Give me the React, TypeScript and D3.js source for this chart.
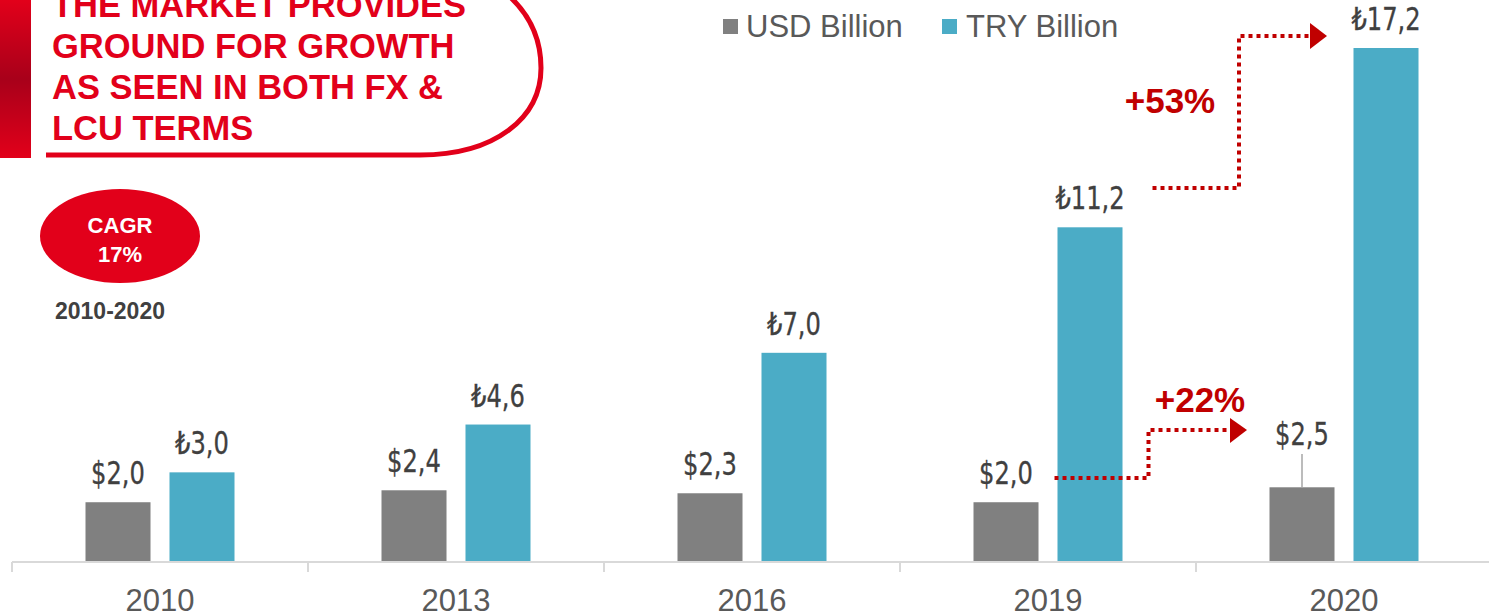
import React from "react";
import * as d3 from "d3";

const categories = ["2010", "2013", "2016", "2019", "2020"];
const seriesNames = ["USD Billion", "TRY Billion"];
const usdValues = [2.0, 2.4, 2.3, 2.0, 2.5];
const tryValues = [3.0, 4.6, 7.0, 11.2, 17.2];
const usdLabels = ["$2,0", "$2,4", "$2,3", "$2,0", "$2,5"];
const tryLabels = ["₺3,0", "₺4,6", "₺7,0", "₺11,2", "₺17,2"];
const titleLines = ["THE MARKET PROVIDES", "GROUND FOR GROWTH", "AS SEEN IN BOTH FX &", "LCU TERMS"];

const W = 1489;
const H = 616;
const GRAY = "#808080";
const TEAL = "#4BACC6";
const RED = "#E2001A";
const DARKRED = "#C00000";
const LABEL_FONT = "'DejaVu Sans Condensed', 'DejaVu Sans', sans-serif";
const ARIAL = "'Liberation Sans', Arial, sans-serif";

export default function App() {
  const baseY = 562;
  const x0 = d3.scaleBand<string>().domain(categories).range([12, 1492]).padding(0);
  const bw = x0.bandwidth();
  const x1 = d3
    .scaleBand<string>()
    .domain(seriesNames)
    .range([bw / 2 - 74.5, bw / 2 + 74.5])
    .paddingInner(0.226);
  const y = d3.scaleLinear().domain([0, 17.2]).range([baseY, 48]);
  const series = [
    { name: seriesNames[0], values: usdValues, labels: usdLabels, color: GRAY },
    { name: seriesNames[1], values: tryValues, labels: tryLabels, color: TEAL },
  ];

  const ticks = categories.map((c) => x0(c)!).concat([x0(categories[categories.length - 1])! + bw]);

  const gray2019 = x0("2019")! + x1(seriesNames[0])!;
  const teal2019 = x0("2019")! + x1(seriesNames[1])!;
  const b = x1.bandwidth();

  const a1y0 = 478;
  const a1x0 = gray2019 + b + 16;
  const a1xm = teal2019 + b + 26;
  const a1y1 = 430;
  const a1x1 = 1230;

  const a2y0 = 188;
  const a2x0 = teal2019 + b + 30;
  const a2xm = 1239;
  const a2y1 = 36;
  const a2x1 = 1310;

  return (
    <svg width={W} height={H} style={{ position: "absolute", left: 0, top: 0, background: "#fff" }}>
      <defs>
        <linearGradient id="redbar" x1="0" y1="0" x2="0" y2="1">
          <stop offset="0" stopColor="#E2001A" />
          <stop offset="0.5" stopColor="#A8001A" />
          <stop offset="1" stopColor="#E2001A" />
        </linearGradient>
      </defs>

      {/* title box */}
      <rect x={0} y={0} width={31} height={158} fill="url(#redbar)" />
      <path
        d="M46,155 H420 C495,155 541,118 541,68 C541,35 527,12 508,-5"
        fill="none"
        stroke={RED}
        strokeWidth={5}
      />
      {titleLines.map((t, i) => (
        <text
          key={t}
          x={52}
          y={17 + i * 41}
          fill={RED}
          fontFamily={ARIAL}
          fontWeight="bold"
          fontSize={34.5}
        >
          {t}
        </text>
      ))}

      {/* CAGR */}
      <ellipse cx={120} cy={236} rx={80} ry={47} fill={RED} />
      <text x={120} y={233} textAnchor="middle" fill="#fff" fontFamily={ARIAL} fontWeight="bold" fontSize={22}>
        CAGR
      </text>
      <text x={120} y={262} textAnchor="middle" fill="#fff" fontFamily={ARIAL} fontWeight="bold" fontSize={22}>
        17%
      </text>
      <text x={55} y={319} fill="#404040" fontFamily={ARIAL} fontWeight="bold" fontSize={23}>
        2010-2020
      </text>

      {/* legend */}
      <rect x={723} y={19} width={15} height={15} fill={GRAY} />
      <text x={746} y={37} fill="#595959" fontFamily={ARIAL} fontSize={31}>
        USD Billion
      </text>
      <rect x={942} y={19} width={15} height={15} fill={TEAL} />
      <text x={966} y={37} fill="#595959" fontFamily={ARIAL} fontSize={31}>
        TRY Billion
      </text>

      {/* bars */}
      {series.map((s) =>
        categories.map((c, i) => (
          <rect
            key={s.name + c}
            x={x0(c)! + x1(s.name)!}
            y={y(s.values[i])}
            width={b}
            height={baseY - y(s.values[i])}
            fill={s.color}
          />
        ))
      )}

      {/* value labels */}
      {series.map((s, si) =>
        categories.map((c, i) => {
          const elevated = si === 0 && c === "2020";
          const cx = x0(c)! + x1(s.name)! + b / 2;
          const ly = elevated ? 445 : y(s.values[i]) - 18;
          return (
            <g key={"l" + s.name + c}>
              {elevated && (
                <line x1={cx} x2={cx} y1={454} y2={y(s.values[i])} stroke="#a6a6a6" strokeWidth={1.5} />
              )}
              <text
                transform={`translate(${cx},${ly}) scale(0.84,1)`}
                x={0}
                y={0}
                textAnchor="middle"
                fill="#404040"
                stroke="#404040"
                strokeWidth={0.3}
                fontFamily={LABEL_FONT}
                fontStretch="condensed"
                fontSize={32}
              >
                {s.labels[i]}
              </text>
            </g>
          );
        })
      )}

      {/* axis */}
      <line x1={12} x2={W} y1={baseY} y2={baseY} stroke="#d9d9d9" strokeWidth={2} />
      {ticks.map((t, i) => (
        <line key={"t" + i} x1={t} x2={t} y1={baseY} y2={baseY + 10} stroke="#d9d9d9" strokeWidth={2} />
      ))}
      {categories.map((c) => (
        <text
          key={"c" + c}
          x={x0(c)! + bw / 2}
          y={611}
          textAnchor="middle"
          fill="#595959"
          fontFamily={ARIAL}
          fontSize={31}
        >
          {c}
        </text>
      ))}

      {/* +22% arrow */}
      <path
        d={`M${a1x0},${a1y0} H${a1xm} V${a1y1} H${a1x1}`}
        fill="none"
        stroke={DARKRED}
        strokeWidth={4}
        strokeDasharray="4 4"
      />
      <path d={`M${a1x1},${a1y1 - 12} L${a1x1 + 17},${a1y1} L${a1x1},${a1y1 + 13} Z`} fill={DARKRED} />
      <text x={1200} y={412} textAnchor="middle" fill={DARKRED} fontFamily={ARIAL} fontWeight="bold" fontSize={35}>
        +22%
      </text>

      {/* +53% arrow */}
      <path
        d={`M${a2x0},${a2y0} H${a2xm} V${a2y1} H${a2x1}`}
        fill="none"
        stroke={DARKRED}
        strokeWidth={4}
        strokeDasharray="4 4"
      />
      <path d={`M${a2x1},${a2y1 - 13} L${a2x1 + 17},${a2y1} L${a2x1},${a2y1 + 13} Z`} fill={DARKRED} />
      <text x={1170} y={113} textAnchor="middle" fill={DARKRED} fontFamily={ARIAL} fontWeight="bold" fontSize={35}>
        +53%
      </text>
    </svg>
  );
}
